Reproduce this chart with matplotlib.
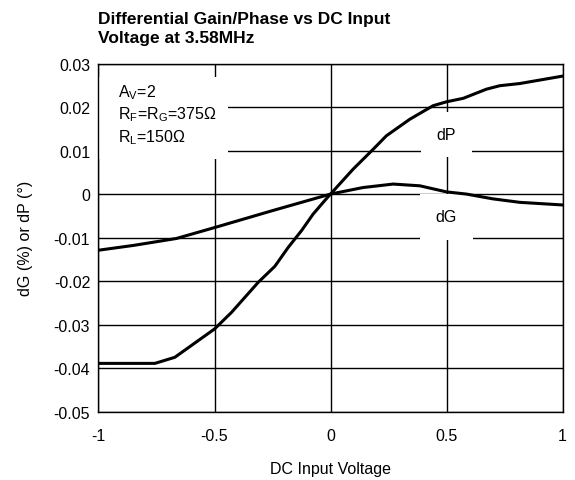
#!/usr/bin/env python3
import matplotlib
matplotlib.use('Agg')
import matplotlib.pyplot as plt
from matplotlib.patches import Rectangle

# --- DATA ---
dg_x = [-1.0, -0.85, -0.664, -0.5, -0.25, 0.0, 0.14, 0.27, 0.385, 0.5, 0.586, 0.70, 0.816, 1.0]
dg_y = [-0.0129, -0.0118, -0.0102, -0.0077, -0.0038, 0.0, 0.0015, 0.0023, 0.0019, 0.0005, 0.0, -0.0011, -0.0019, -0.0025]

dp_x = [-1.0, -0.757, -0.671, -0.5, -0.427, -0.312, -0.24, -0.183, -0.125, -0.075, -0.025, 0.0,
        0.097, 0.184, 0.241, 0.342, 0.442, 0.5, 0.572, 0.672, 0.73, 0.816, 1.0]
dp_y = [-0.0389, -0.0389, -0.0375, -0.031, -0.0272, -0.0203, -0.0166, -0.0123, -0.0084, -0.0046, -0.0015, 0.0,
        0.0057, 0.0103, 0.0134, 0.0172, 0.0203, 0.0212, 0.022, 0.0241, 0.0249, 0.0254, 0.0271]

x_ticks = [-1, -0.5, 0, 0.5, 1]
x_labels = ['-1', '-0.5', '0', '0.5', '1']
y_ticks = [-0.05, -0.04, -0.03, -0.02, -0.01, 0, 0.01, 0.02, 0.03]
y_labels = ['-0.05', '-0.04', '-0.03', '-0.02', '-0.01', '0', '0.01', '0.02', '0.03']

TITLE = 'Differential Gain/Phase vs DC Input\nVoltage at 3.58MHz'
# -------------------------------------

FS = 11.5
plt.rcParams['font.family'] = ['Liberation Sans', 'DejaVu Sans']
plt.rcParams['mathtext.fontset'] = 'custom'
plt.rcParams['mathtext.rm'] = 'Liberation Sans'

fig = plt.figure(figsize=(5.75, 4.81), dpi=100)
ax = fig.add_axes([0.1713, 0.142, 0.9783 - 0.1713, 0.8659 - 0.142])

ax.plot(dg_x, dg_y, color='black', lw=2.2, zorder=3)
ax.plot(dp_x, dp_y, color='black', lw=2.2, zorder=3)

ax.set_xlim(-1, 1)
ax.set_ylim(-0.05, 0.03)
ax.set_xticks(x_ticks)
ax.set_xticklabels(x_labels)
ax.set_yticks(y_ticks)
ax.set_yticklabels(y_labels)
ax.tick_params(length=0, labelsize=FS, pad=6)
ax.tick_params(axis='x', pad=12)
ax.grid(True, color='black', lw=1)
ax.set_axisbelow(True)
for s in ax.spines.values():
    s.set_linewidth(1)

ax.set_xlabel('DC Input Voltage', fontsize=FS, labelpad=13)
ax.set_ylabel('dG (%) or dP (°)', fontsize=FS, labelpad=15)

# white box behind the conditions text
ax.add_patch(Rectangle((-1, 0.008), 0.557, 0.0189, facecolor='white',
                       edgecolor='none', zorder=2))
ax.text(-0.915, 0.0235, 'A$_\\mathregular{V}$=2', fontsize=FS, va='center', zorder=4)
ax.text(-0.915, 0.0185, 'R$_\\mathregular{F}$=R$_\\mathregular{G}$=375Ω', fontsize=FS, va='center', zorder=4)
ax.text(-0.915, 0.0132, 'R$_\\mathregular{L}$=150Ω', fontsize=FS, va='center', zorder=4)

box = dict(facecolor='white', edgecolor='none', pad=11)
ax.text(0.5, 0.0137, 'dP', fontsize=FS, ha='center', va='center', bbox=box, zorder=2.5)
ax.text(0.5, -0.0052, 'dG', fontsize=FS, ha='center', va='center', bbox=box, zorder=2.5)

fig.text(98 / 575, 1 - 12 / 481, TITLE, fontsize=12.5, fontweight='bold',
         family=['Liberation Sans', 'DejaVu Sans'], ha='left', va='top', linespacing=1.3)

fig.savefig('out.png', dpi=100)
